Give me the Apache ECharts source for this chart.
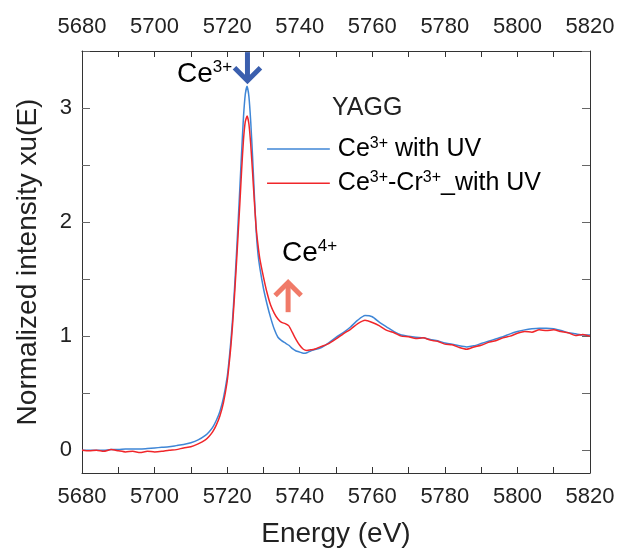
<!DOCTYPE html>
<html>
<head>
<meta charset="utf-8">
<script src="https://cdn.jsdelivr.net/npm/echarts@6/dist/echarts.min.js"></script>
<style>
  html, body { margin: 0; padding: 0; background: #fff; }
  #chart { width: 617px; height: 550px; }
</style>
</head>
<body>
<div id="chart"></div>
<script>
// 能量 (eV)
const energy = [
  5680, 5682, 5684, 5686, 5688, 5690, 5692, 5694, 5696, 5698,
  5700, 5702, 5704, 5706, 5708, 5710, 5712, 5714, 5715, 5716,
  5717, 5718, 5719, 5720, 5720.5, 5721, 5721.5, 5722, 5722.5, 5723,
  5723.5, 5724, 5724.5, 5725, 5725.5, 5726, 5726.5, 5727, 5727.5, 5728,
  5728.5, 5729, 5730, 5731, 5732, 5733, 5734, 5735, 5736, 5737,
  5738, 5739, 5740, 5741, 5742, 5743, 5744, 5746, 5748, 5750,
  5752, 5754, 5756, 5758, 5760, 5762, 5764, 5766, 5768, 5770,
  5772, 5774, 5776, 5778, 5780, 5782, 5784, 5786, 5788, 5790,
  5792, 5794, 5796, 5798, 5800, 5802, 5804, 5806, 5808, 5810,
  5812, 5814, 5816, 5818, 5820
];

// Ce3+ with UV
const ceUV = [
  0.00, 0.00, 0.00, 0.00, 0.005, 0.005, 0.01, 0.01, 0.01, 0.015,
  0.02, 0.025, 0.03, 0.04, 0.05, 0.065, 0.09, 0.13, 0.16, 0.20,
  0.26, 0.34, 0.46, 0.64, 0.78, 0.95, 1.15, 1.40, 1.68, 1.98,
  2.30, 2.62, 2.92, 3.12, 3.19, 3.10, 2.88, 2.58, 2.24, 1.92,
  1.72, 1.60, 1.42, 1.28, 1.16, 1.06, 0.99, 0.96, 0.94, 0.92,
  0.89, 0.87, 0.86, 0.85, 0.855, 0.87, 0.88, 0.90, 0.94, 0.99,
  1.03, 1.08, 1.14, 1.18, 1.17, 1.12, 1.08, 1.04, 1.01, 1.00,
  0.99, 0.985, 0.97, 0.96, 0.94, 0.93, 0.915, 0.905, 0.915, 0.935,
  0.955, 0.975, 0.995, 1.02, 1.04, 1.055, 1.065, 1.07, 1.07, 1.065,
  1.05, 1.03, 1.02, 1.01, 1.01
];

// Ce3+-Cr3+_with UV
const ceCrUV = [
  0.00, -0.005, 0.00, -0.01, 0.005, -0.005, -0.015, -0.01, -0.02, -0.01,
  -0.015, -0.01, 0.00, 0.005, 0.02, 0.03, 0.055, 0.09, 0.12, 0.16,
  0.22, 0.30, 0.42, 0.60, 0.74, 0.90, 1.10, 1.34, 1.60, 1.88,
  2.16, 2.46, 2.72, 2.88, 2.93, 2.86, 2.68, 2.44, 2.18, 1.95,
  1.80, 1.68, 1.52, 1.38, 1.27, 1.20, 1.15, 1.12, 1.11, 1.09,
  1.03, 0.97, 0.92, 0.885, 0.875, 0.88, 0.885, 0.91, 0.935, 0.975,
  1.02, 1.06, 1.11, 1.14, 1.12, 1.09, 1.05, 1.03, 1.00, 0.995,
  0.98, 0.985, 0.965, 0.955, 0.93, 0.925, 0.90, 0.885, 0.905, 0.92,
  0.945, 0.96, 0.985, 1.00, 1.025, 1.04, 1.035, 1.055, 1.05, 1.055,
  1.04, 1.03, 1.005, 1.015, 1.00
];

const yLabelValues = [0, 1, 2, 3];
const yTickValues = [0, 0.5, 1, 1.5, 2, 2.5, 3, 3.5];

const FONT = 'Liberation Sans, Arial, sans-serif';
const BLUE = '#3f86d6';
const RED = '#f0262a';
const AXIS = '#333';

const chart = echarts.init(document.getElementById('chart'));

const xCommon = {
  type: 'value',
  min: 5680,
  max: 5820,
  interval: 20,
  splitLine: { show: false },
  axisLine: { show: true, onZero: false, lineStyle: { color: AXIS, width: 1 } },
  axisTick: { inside: true, length: 6, lineStyle: { color: AXIS } },
  minorTick: { show: true, splitNumber: 2, length: 6, lineStyle: { color: AXIS } }
};

const yCommon = {
  type: 'value',
  min: -0.2,
  max: 3.5,
  splitLine: { show: false },
  axisLine: { show: true, onZero: false, lineStyle: { color: AXIS, width: 1 } },
  axisTick: { inside: true, length: 8, customValues: yTickValues, lineStyle: { color: '#666' } }
};

const option = {
  animation: false,
  backgroundColor: '#fff',
  grid: { left: 82, right: 27, top: 51, bottom: 77, containLabel: false, outerBoundsMode: 'none' },
  xAxis: [
    Object.assign({}, xCommon, {
      position: 'bottom',
      name: 'Energy (eV)',
      nameLocation: 'middle',
      nameGap: 47,
      nameTextStyle: { color: '#222', fontSize: 28, fontFamily: FONT },
      axisLabel: { color: '#222', fontSize: 22, fontFamily: FONT, margin: 13, formatter: v => String(v) }
    }),
    Object.assign({}, xCommon, {
      position: 'top',
      axisLabel: { color: '#222', fontSize: 22, fontFamily: FONT, margin: 13, formatter: v => String(v) }
    })
  ],
  yAxis: [
    Object.assign({}, yCommon, {
      position: 'left',
      name: 'Normalized intensity xu(E)',
      nameLocation: 'middle',
      nameGap: 40,
      nameTextStyle: { color: '#222', fontSize: 28, fontFamily: FONT },
      axisLabel: { customValues: yLabelValues, color: '#222', fontSize: 22, fontFamily: FONT, margin: 10 }
    }),
    Object.assign({}, yCommon, {
      position: 'right',
      axisLabel: { show: false }
    })
  ],
  series: [
    {
      name: 'Ce3+ with UV',
      type: 'line',
      data: energy.map((e, i) => [e, ceUV[i]]),
      showSymbol: false,
      smooth: 0.2,
      lineStyle: { color: BLUE, width: 1.5 },
      itemStyle: { color: BLUE },
      z: 3
    },
    {
      name: 'Ce3+-Cr3+_with UV',
      type: 'line',
      data: energy.map((e, i) => [e, ceCrUV[i]]),
      showSymbol: false,
      smooth: 0.2,
      lineStyle: { color: RED, width: 1.5 },
      itemStyle: { color: RED },
      z: 4
    }
  ]
};

chart.setOption(option);

// 注释和图例 (按数据坐标定位)
const px = (x, y) => chart.convertToPixel({ xAxisIndex: 0, yAxisIndex: 0 }, [x, y]);

const supRich = {
  b: { fontSize: 28, fontFamily: FONT, color: '#333' },
  s: { fontSize: 17, fontFamily: FONT, color: '#333', padding: [0, 0, 13, 0] }
};
const legRich = {
  b: { fontSize: 25, fontFamily: FONT, color: '#222' },
  s: { fontSize: 16, fontFamily: FONT, color: '#222', padding: [0, 0, 11, 0] }
};

function arrow(x, yFrom, yTo, color) {
  const p0 = px(x, yFrom);
  const p1 = px(x, yTo);
  const dir = p1[1] > p0[1] ? 1 : -1;
  return [
    { type: 'line', shape: { x1: p0[0], y1: p0[1], x2: p1[0], y2: p1[1] - dir * 2 },
      style: { stroke: color, lineWidth: 5 } },
    { type: 'polyline', shape: { points: [[p1[0] - 13, p1[1] - dir * 13], [p1[0], p1[1]], [p1[0] + 13, p1[1] - dir * 13]] },
      style: { stroke: color, lineWidth: 5, fill: null, lineJoin: 'miter' } }
  ];
}

const ce3Pos = px(5721.4, 3.30);
const ce4Pos = px(5735.1, 1.73);
const yaggPos = px(5748.9, 3.00);
const leg1a = px(5731.0, 2.64), leg1b = px(5748.3, 2.64);
const leg2a = px(5731.0, 2.34), leg2b = px(5748.3, 2.34);

const graphics = [].concat(
  arrow(5725.6, 3.49, 3.24, '#3b5fae'),
  arrow(5736.8, 1.21, 1.47, '#f07a68'),
  [
    { type: 'text', x: ce3Pos[0], y: ce3Pos[1],
      style: { text: '{b|Ce}{s|3+}', rich: supRich, align: 'right', verticalAlign: 'middle' } },
    { type: 'text', x: ce4Pos[0], y: ce4Pos[1],
      style: { text: '{b|Ce}{s|4+}', rich: supRich, align: 'left', verticalAlign: 'middle' } },
    { type: 'text', x: yaggPos[0], y: yaggPos[1],
      style: { text: 'YAGG', fontSize: 25, fontFamily: FONT, fill: '#222', align: 'left', verticalAlign: 'middle' } },
    { type: 'line', shape: { x1: leg1a[0], y1: leg1a[1], x2: leg1b[0], y2: leg1b[1] },
      style: { stroke: BLUE, lineWidth: 1.5 } },
    { type: 'line', shape: { x1: leg2a[0], y1: leg2a[1], x2: leg2b[0], y2: leg2b[1] },
      style: { stroke: RED, lineWidth: 1.5 } },
    { type: 'text', x: leg1b[0] + 8, y: leg1b[1],
      style: { text: '{b|Ce}{s|3+}{b| with UV}', rich: legRich, align: 'left', verticalAlign: 'middle' } },
    { type: 'text', x: leg2b[0] + 8, y: leg2b[1],
      style: { text: '{b|Ce}{s|3+}{b|-Cr}{s|3+}{b|_with UV}', rich: legRich, align: 'left', verticalAlign: 'middle' } }
  ]
);

chart.setOption({ graphic: graphics });

window.addEventListener('resize', () => chart.resize());
</script>
</body>
</html>
